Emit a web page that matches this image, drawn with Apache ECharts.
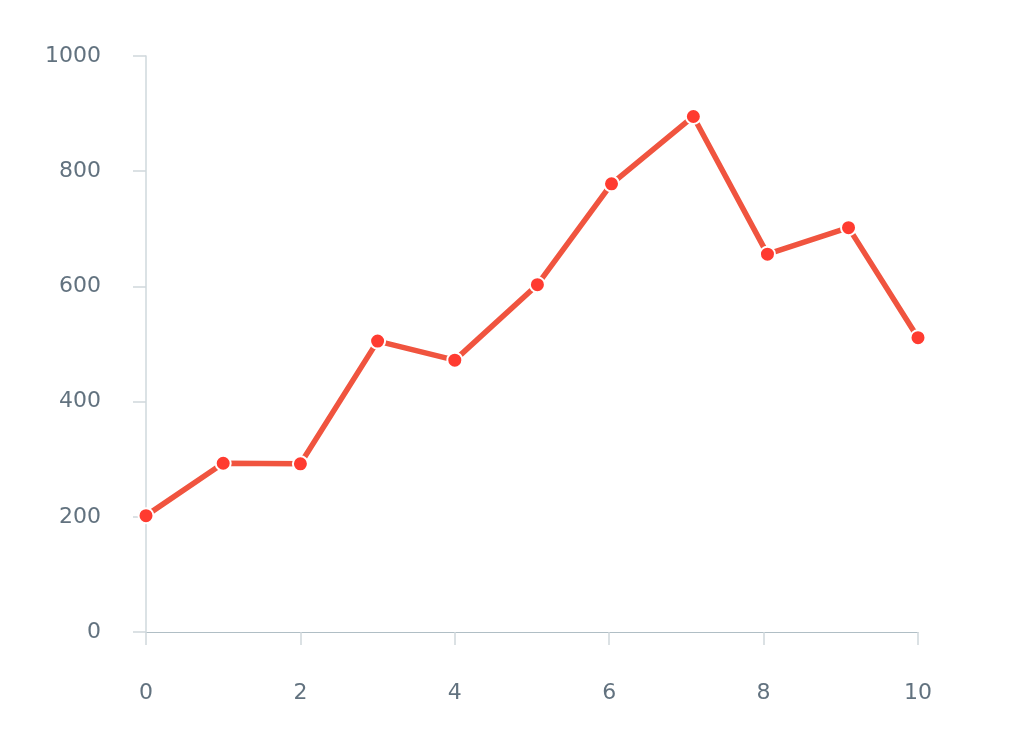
<!DOCTYPE html>
<html>
<head>
<meta charset="utf-8">
<script src="https://cdn.jsdelivr.net/npm/echarts@6/dist/echarts.min.js"></script>
<style>
html,body{margin:0;padding:0;background:#fff;}
#chart{width:1020px;height:748px;}
</style>
</head>
<body>
<div id="chart"></div>
<script>
const xValues = [0, 1, 2, 3, 4, 5.07, 6.03, 7.09, 8.05, 9.1, 10];
const yValues = [202, 293, 292, 505, 472, 603, 778, 895, 656, 702, 511];
const yTicks = [0, 200, 400, 600, 800, 1000];
const xTicks = [0, 2, 4, 6, 8, 10];

const points = xValues.map((x, i) => [x, yValues[i]]);
const labelColor = '#62727f';
const font = '"DejaVu Sans", sans-serif';

const chart = echarts.init(document.getElementById('chart'));
chart.setOption({
  animation: false,
  backgroundColor: '#ffffff',
  grid: { left: 146, right: 102, top: 56, bottom: 116 },
  xAxis: {
    type: 'value',
    min: xTicks[0], max: xTicks[xTicks.length - 1], interval: 2,
    splitLine: { show: false },
    axisLine: { show: true, lineStyle: { color: '#b0bec5', width: 1 } },
    axisTick: { show: true, length: 13, lineStyle: { color: '#cfd8dc', width: 1.5 } },
    axisLabel: { color: labelColor, fontSize: 22, fontFamily: font, margin: 50, formatter: v => String(v) }
  },
  yAxis: {
    type: 'value',
    min: yTicks[0], max: yTicks[yTicks.length - 1], interval: 200,
    splitLine: { show: false },
    axisLine: { show: true, lineStyle: { color: '#cfd8dc', width: 1.5 } },
    axisTick: { show: true, length: 13, lineStyle: { color: '#cfd8dc', width: 1.5 } },
    axisLabel: { color: labelColor, fontSize: 22, fontFamily: font, margin: 45, formatter: v => String(v) }
  },
  series: [{
    type: 'line',
    data: points,
    symbol: 'circle',
    symbolSize: 15,
    lineStyle: { color: '#f0543f', width: 5.5 },
    itemStyle: { color: '#ff3b30', borderColor: '#ffffff', borderWidth: 2 }
  }]
});
</script>
</body>
</html>
